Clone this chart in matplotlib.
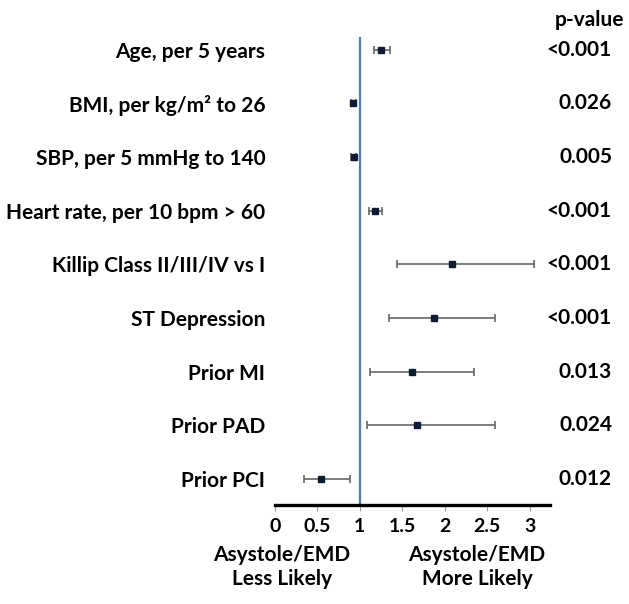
import numpy as np
import matplotlib
matplotlib.use('Agg')
import matplotlib.pyplot as plt
import matplotlib.transforms as mtransforms

labels = ['Age, per 5 years', 'BMI, per kg/m² to 26', 'SBP, per 5 mmHg to 140',
          'Heart rate, per 10 bpm > 60', 'Killip Class II/III/IV vs I', 'ST Depression',
          'Prior MI', 'Prior PAD', 'Prior PCI']
odds = [1.25, 0.92, 0.93, 1.18, 2.09, 1.87, 1.61, 1.67, 0.54]
ci_low = [1.17, 0.89, 0.90, 1.11, 1.44, 1.34, 1.12, 1.08, 0.34]
ci_high = [1.35, 0.95, 0.96, 1.26, 3.05, 2.59, 2.34, 2.59, 0.88]
pvals = ['<0.001', '0.026', '0.005', '<0.001', '<0.001', '<0.001', '0.013', '0.024', '0.012']
xticks = [0, 0.5, 1, 1.5, 2, 2.5, 3]
xtick_labels = ['0', '0.5', '1', '1.5', '2', '2.5', '3']

plt.rcParams['font.family'] = ['Lato', 'DejaVu Sans']
plt.rcParams['font.weight'] = 'bold'
fs = 15

fig = plt.figure(figsize=(6.29, 6.04), dpi=100)
ax = fig.add_axes([275 / 629, 1 - 505 / 604, 275 / 629, 468 / 604])

y = np.arange(len(labels))
odds = np.array(odds)
err = np.array([odds - np.array(ci_low), np.array(ci_high) - odds])

ax.axvline(1, color='#4a7ebb', lw=1.6, zorder=1)
ax.errorbar(odds, y, xerr=err, fmt='s', color='#0d1b33', ms=5,
            ecolor='#666666', elinewidth=1.2, capsize=3, capthick=1.2, zorder=3)

ax.set_xlim(0, 3.24)
ax.set_ylim(len(labels) - 1 + 0.49, -0.24)
ax.set_xticks(xticks)
ax.set_xticklabels(xtick_labels, fontsize=14, fontweight='bold')
ax.tick_params(axis='x', length=4, color='#999999', pad=5)
ax.set_yticks(y)
ax.set_yticklabels(labels, fontsize=fs, fontweight='bold')
ax.tick_params(axis='y', length=0, pad=7)

for s in ['top', 'right', 'left']:
    ax.spines[s].set_visible(False)
ax.spines['bottom'].set_linewidth(2.4)
ax.spines['bottom'].set_color('black')

trans = mtransforms.blended_transform_factory(fig.transFigure, ax.transData)
for yi, p in zip(y, pvals):
    ax.text(612 / 629, yi, p, transform=trans, ha='right', va='center',
            fontsize=fs, fontweight='bold', clip_on=False)
fig.text(590 / 629, 1 - 20 / 604, 'p-value', ha='center', va='center',
         fontsize=fs, fontweight='bold')

fig.text(282 / 629, 1 - 567 / 604, 'Asystole/EMD\nLess Likely', ha='center', va='center',
         fontsize=fs, fontweight='bold', linespacing=1.25)
fig.text(477 / 629, 1 - 567 / 604, 'Asystole/EMD\nMore Likely', ha='center', va='center',
         fontsize=fs, fontweight='bold', linespacing=1.25)

fig.savefig('out.png', dpi=100)
